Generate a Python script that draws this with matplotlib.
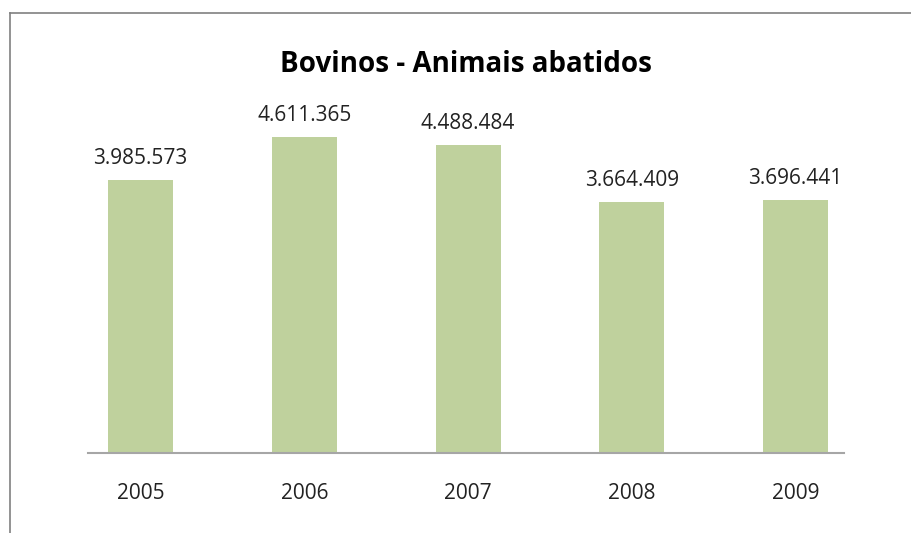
import matplotlib
matplotlib.use("Agg")
import matplotlib.pyplot as plt
from matplotlib.lines import Line2D

anos = ["2005", "2006", "2007", "2008", "2009"]
abatidos = [3985573, 4611365, 4488484, 3664409, 3696441]
rotulos = ["3.985.573", "4.611.365", "4.488.484", "3.664.409", "3.696.441"]

plt.rcParams['font.family'] = ['Open Sans', 'DejaVu Sans']

W, H = 912, 533
fig = plt.figure(figsize=(W / 100, H / 100), dpi=100)

# eixo posicionado em pixels
left, right = 88, 844
bottom, top = 453, 110.4
ax = fig.add_axes([left / W, 1 - bottom / H, (right - left) / W, (bottom - top) / H])

x = list(range(len(anos)))
ax.bar(x, abatidos, width=0.397, color="#BFD19D")
ax.set_xlim(-0.3206, 4.296)
ax.set_ylim(0, 5000000)

for xi, v, r in zip(x, abatidos, rotulos):
    ax.annotate(r, (xi, v), xytext=(0, 8), textcoords="offset points",
                ha="center", va="bottom", fontsize=15, color="#222222")

for s in ax.spines.values():
    s.set_visible(False)
ax.axhline(0, color="#A6A6A6", lw=1.5, clip_on=False)
ax.set_yticks([])
ax.set_xticks(x)
ax.set_xticklabels(anos, fontsize=15, color="#222222")
ax.tick_params(axis="x", length=0, pad=21.5)

fig.text(466 / W, 1 - 64 / H, "Bovinos - Animais abatidos", ha="center", va="center",
         fontsize=20, fontweight="bold", color="black")

# moldura do gráfico (só esquerda e topo aparecem)
fig.add_artist(Line2D([10.5 / W, 10.5 / W], [0, 1 - 12.5 / H], color="#808080", lw=1.2,
                      transform=fig.transFigure))
fig.add_artist(Line2D([10.5 / W, 1], [1 - 12.5 / H, 1 - 12.5 / H], color="#808080", lw=1.2,
                      transform=fig.transFigure))

fig.savefig("out.png", dpi=100, facecolor="white")
